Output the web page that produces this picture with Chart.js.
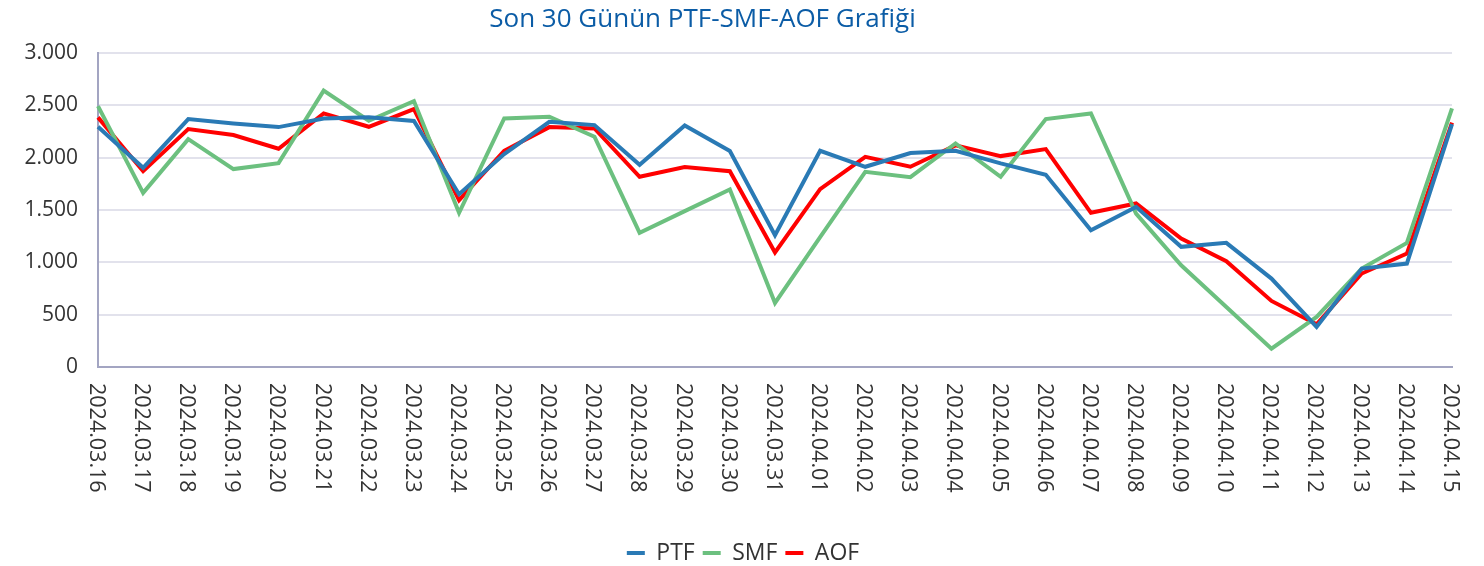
<!DOCTYPE html>
<html>
<head>
<meta charset="utf-8">
<script src="https://cdn.jsdelivr.net/npm/chart.js@4.4.1/dist/chart.umd.min.js"></script>
<style>
  html, body { margin: 0; padding: 0; background: #ffffff; overflow: hidden; }
  #wrap { width: 1484px; height: 566px; }
</style>
</head>
<body>
<div id="wrap"><canvas id="c" width="1484" height="566"></canvas></div>
<script>
const titleText = 'Son 30 Günün PTF-SMF-AOF Grafiği';
const dates = [
  '2024.03.16','2024.03.17','2024.03.18','2024.03.19','2024.03.20','2024.03.21','2024.03.22','2024.03.23',
  '2024.03.24','2024.03.25','2024.03.26','2024.03.27','2024.03.28','2024.03.29','2024.03.30','2024.03.31',
  '2024.04.01','2024.04.02','2024.04.03','2024.04.04','2024.04.05','2024.04.06','2024.04.07','2024.04.08',
  '2024.04.09','2024.04.10','2024.04.11','2024.04.12','2024.04.13','2024.04.14','2024.04.15'
];
const ptf = [2295, 1903, 2369, 2327, 2292, 2375, 2385, 2350, 1651, 2034, 2343, 2311, 1932, 2308, 2063, 1259,
             2066, 1913, 2044, 2066, 1945, 1836, 1307, 1530, 1148, 1186, 845, 383, 940, 988, 2320];
const smf = [2493, 1664, 2177, 1891, 1948, 2640, 2353, 2541, 1473, 2375, 2391, 2200, 1282, 1489, 1696, 612,
             1240, 1865, 1814, 2136, 1817, 2369, 2423, 1466, 972, 574, 175, 478, 940, 1186, 2471];
const aof = [2385, 1871, 2273, 2216, 2085, 2423, 2295, 2464, 1594, 2066, 2292, 2279, 1817, 1910, 1871, 1094,
             1699, 2008, 1913, 2117, 2015, 2082, 1473, 1562, 1227, 1011, 631, 408, 893, 1084, 2334];
const yTicks = [0, 500, 1000, 1500, 2000, 2500, 3000];
const seriesNames = ['PTF', 'SMF', 'AOF'];
const seriesColors = ['#2a7ab5', '#6cc07f', '#ff0000'];

const FONT = '"Open Sans", "Noto Sans", sans-serif';

function fmt(v) {
  return String(v).replace(/\B(?=(\d{3})+(?!\d))/g, '.');
}

const rotatedLabels = {
  id: 'rotatedLabels',
  afterDraw(chart) {
    const xs = chart.scales.x;
    const ctx = chart.ctx;
    ctx.save();
    ctx.font = '21.5px ' + FONT;
    ctx.fillStyle = '#333333';
    ctx.textAlign = 'left';
    ctx.textBaseline = 'middle';
    chart.data.labels.forEach((lab, i) => {
      const x = xs.getPixelForTick(i);
      ctx.save();
      ctx.translate(x - 2, xs.top + 16);
      ctx.rotate(Math.PI / 2);
      ctx.fillText(lab, 0, 0);
      ctx.restore();
    });
    ctx.restore();
  }
};

const shiftBlocks = {
  id: 'shiftBlocks',
  afterLayout(chart) {
    if (chart.titleBlock) {
      chart.titleBlock.left = 0;
      chart.titleBlock.right = 1405;
    }
    if (chart.legend) {
      chart.legend.left += 17;
      chart.legend.right += 17;
      chart.legend.top += 2;
      chart.legend.bottom += 2;
    }
  }
};

const data = [ptf, smf, aof];
new Chart(document.getElementById('c'), {
  type: 'line',
  data: {
    labels: dates,
    datasets: seriesNames.map((n, i) => ({
      label: n,
      data: data[i],
      borderColor: seriesColors[i],
      backgroundColor: seriesColors[i],
      borderWidth: 4,
      pointRadius: 0,
      pointHoverRadius: 0,
      tension: 0,
      fill: false
    }))
  },
  options: {
    responsive: false,
    animation: false,
    events: [],
    layout: { padding: { left: 0, right: 32, top: 0, bottom: -6.5 } },
    plugins: {
      title: {
        display: true,
        text: titleText,
        color: '#0b5ca6',
        font: { family: FONT, size: 26, weight: 'normal' },
        padding: { top: 4.4, bottom: 17.4 }
      },
      legend: {
        position: 'bottom',
        labels: {
          boxWidth: 18,
          boxHeight: 4,
          padding: 8,
          color: '#333333',
          font: { family: FONT, size: 23 },
          generateLabels(chart) {
            return chart.data.datasets.map((ds, i) => ({
              text: ds.label,
              fillStyle: ds.borderColor,
              strokeStyle: ds.borderColor,
              lineWidth: 0,
              hidden: false,
              datasetIndex: i,
              fontColor: '#333333'
            }));
          }
        }
      },
      tooltip: { enabled: false }
    },
    scales: {
      x: {
        offset: false,
        grid: { display: false, drawTicks: false },
        border: { display: true, color: '#a3a5c2', width: 2 },
        ticks: { display: false },
        afterFit(scale) { scale.height = 164.5; }
      },
      y: {
        min: 0,
        max: 3000,
        afterBuildTicks(scale) { scale.ticks = yTicks.map(v => ({ value: v })); },
        grid: { color: '#e2e2ec', lineWidth: 2, drawTicks: false },
        border: { display: true, color: '#a3a5c2', width: 2 },
        ticks: {
          padding: 20,
          color: '#333333',
          font: { family: FONT, size: 21 },
          callback: (v) => fmt(v)
        },
        afterFit(scale) { scale.width = 98; }
      }
    }
  },
  plugins: [rotatedLabels, shiftBlocks]
});
</script>
</body>
</html>
